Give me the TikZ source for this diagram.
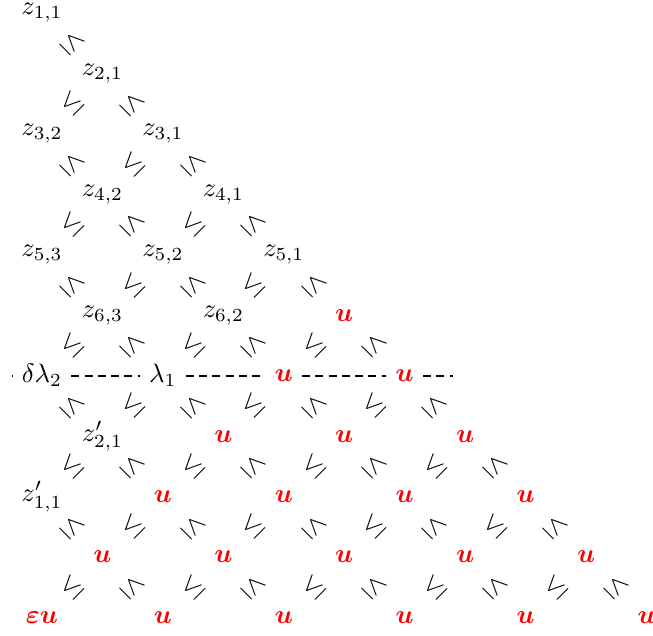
\documentclass[tikz,border=0pt]{standalone}
\usepackage{amsmath}
\begin{document}
\begin{tikzpicture}[x=22.8pt,y=-22.8pt,
  lab/.style={inner sep=0.3333em},
  red u/.style={inner sep=0.3333em,text=red},
  rel/.style={inner sep=0pt,sloped},
  cut/.style={thick,densely dashed}]
\useasboundingbox (-0.695,-0.215) rectangle (10.107,10.29);
% row 1
\node[lab] (n1-0) at (0,0) {$z_{1,1}$};
% row 2
\node[lab] (n2-1) at (1,1) {$z_{2,1}$};
% row 3
\node[lab] (n3-0) at (0,2) {$z_{3,2}$};
\node[lab] (n3-2) at (2,2) {$z_{3,1}$};
% row 4
\node[lab] (n4-1) at (1,3) {$z_{4,2}$};
\node[lab] (n4-3) at (3,3) {$z_{4,1}$};
% row 5
\node[lab] (n5-0) at (0,4) {$z_{5,3}$};
\node[lab] (n5-2) at (2,4) {$z_{5,2}$};
\node[lab] (n5-4) at (4,4) {$z_{5,1}$};
% row 6
\node[lab] (n6-1) at (1,5) {$z_{6,3}$};
\node[lab] (n6-3) at (3,5) {$z_{6,2}$};
\node[red u] (n6-5) at (5,5) {$\boldsymbol{u}$};
% row 7
\node[lab] (n7-0) at (0,6) {$\delta\lambda_2$};
\node[lab] (n7-2) at (2,6) {$\lambda_1$};
\node[red u] (n7-4) at (4,6) {$\boldsymbol{u}$};
\node[red u] (n7-6) at (6,6) {$\boldsymbol{u}$};
% row 8
\node[lab] (n8-1) at (1,7) {$z'_{2,1}$};
\node[red u] (n8-3) at (3,7) {$\boldsymbol{u}$};
\node[red u] (n8-5) at (5,7) {$\boldsymbol{u}$};
\node[red u] (n8-7) at (7,7) {$\boldsymbol{u}$};
% row 9
\node[lab] (n9-0) at (0,8) {$z'_{1,1}$};
\node[red u] (n9-2) at (2,8) {$\boldsymbol{u}$};
\node[red u] (n9-4) at (4,8) {$\boldsymbol{u}$};
\node[red u] (n9-6) at (6,8) {$\boldsymbol{u}$};
\node[red u] (n9-8) at (8,8) {$\boldsymbol{u}$};
% row 10
\node[red u] (n10-1) at (1,9) {$\boldsymbol{u}$};
\node[red u] (n10-3) at (3,9) {$\boldsymbol{u}$};
\node[red u] (n10-5) at (5,9) {$\boldsymbol{u}$};
\node[red u] (n10-7) at (7,9) {$\boldsymbol{u}$};
\node[red u] (n10-9) at (9,9) {$\boldsymbol{u}$};
% row 11
\node[red u] (n11-0) at (0,10) {$\boldsymbol{\varepsilon u}$};
\node[red u] (n11-2) at (2,10) {$\boldsymbol{u}$};
\node[red u] (n11-4) at (4,10) {$\boldsymbol{u}$};
\node[red u] (n11-6) at (6,10) {$\boldsymbol{u}$};
\node[red u] (n11-8) at (8,10) {$\boldsymbol{u}$};
\node[red u] (n11-10) at (10,10) {$\boldsymbol{u}$};
% interlacing relations
\foreach \r in {1,...,10}{
  \pgfmathtruncatemacro{\rr}{\r+1}
  \pgfmathtruncatemacro{\cmax}{\r-1}
  \foreach \c in {0,...,\cmax}{
    \pgfmathtruncatemacro{\cc}{\c+1}
    \pgfmathtruncatemacro{\pp}{mod(\r-1+\c,2)}
    \ifnum\pp=0
      \path (n\r-\c.center) -- node[rel]{$\le$} (n\rr-\cc.center);
    \else
      \path (n\rr-\c.center) -- node[rel]{$\le$} (n\r-\cc.center);
    \fi
  }
}
% dashed cut
\coordinate (cl) at (-0.496,6);
\coordinate (cr) at (6.80,6);
\draw[cut] (cl) -- (n7-0) -- (n7-2) -- (n7-4) -- (n7-6) -- (cr);
\end{tikzpicture}
\end{document}
